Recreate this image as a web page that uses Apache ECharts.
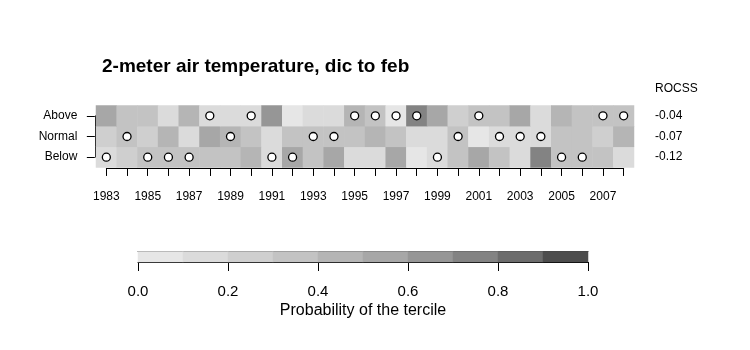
<!DOCTYPE html>
<html>
<head>
<meta charset="utf-8">
<script src="https://cdn.jsdelivr.net/npm/echarts@6/dist/echarts.min.js"></script>
<style>html,body{margin:0;padding:0;background:#fff}#c{width:750px;height:350px}</style>
</head>
<body>
<div id="c"></div>
<script>
// ---- data ----
var years = ['1983','1984','1985','1986','1987','1988','1989','1990','1991','1992','1993','1994','1995','1996','1997','1998','1999','2000','2001','2002','2003','2004','2005','2006','2007','2008'];
var terciles = ['Below', 'Normal', 'Above'];           // bottom to top
var rocss = ['-0.12', '-0.07', '-0.04'];               // bottom to top
var probAbove  = [0.53,0.33,0.37,0.13,0.43,0.17,0.17,0.13,0.63,0.07,0.17,0.13,0.47,0.33,0.07,0.73,0.57,0.27,0.37,0.37,0.53,0.17,0.43,0.33,0.37,0.37];
var probNormal = [0.27,0.37,0.27,0.47,0.17,0.53,0.43,0.37,0.17,0.37,0.37,0.33,0.37,0.47,0.37,0.17,0.13,0.37,0.07,0.17,0.17,0.13,0.33,0.33,0.27,0.43];
var probBelow  = [0.17,0.27,0.37,0.37,0.37,0.33,0.37,0.47,0.17,0.57,0.33,0.53,0.17,0.17,0.53,0.07,0.17,0.33,0.57,0.37,0.13,0.73,0.33,0.33,0.33,0.17];
var observed = ['Below','Normal','Below','Below','Below','Above','Normal','Above','Below','Below','Normal','Normal','Above','Above','Above','Above','Below','Normal','Above','Normal','Normal','Normal','Below','Below','Above','Above'];
var colorbarBreaks = [0, 0.1, 0.2, 0.3, 0.4, 0.5, 0.6, 0.7, 0.8, 0.9, 1.0];
var colorbarColors = ['#e6e6e6','#dbdbdb','#cfcfcf','#c3c3c3','#b5b5b5','#a7a7a7','#969696','#838383','#6c6c6c','#4d4d4d'];
var colorbarValues = [0.05, 0.15, 0.25, 0.35, 0.45, 0.55, 0.65, 0.75, 0.85, 0.95];

// ---- build ----
var heatData = [];
[probBelow, probNormal, probAbove].forEach(function (row, r) {
  row.forEach(function (v, i) { heatData.push([i, r, v]); });
});
var obsData = observed.map(function (t, i) { return [i, terciles.indexOf(t)]; });
var cbData = colorbarValues.map(function (v, i) { return [i, 0, v]; });
var pieces = colorbarColors.map(function (c, i) {
  var p = { gte: colorbarBreaks[i], color: c };
  if (i === colorbarColors.length - 1) p.lte = colorbarBreaks[i + 1]; else p.lt = colorbarBreaks[i + 1];
  return p;
});

var FONT = 'Liberation Sans, Arial, sans-serif';
var chart = echarts.init(document.getElementById('c'), null, { renderer: 'canvas' });
var colW = 538 / years.length, rowH = 62 / terciles.length;
chart.setOption({
  animation: false,
  backgroundColor: '#ffffff',
  title: {
    text: '2-meter air temperature, dic to feb',
    left: 102, top: 57, padding: 0,
    textStyle: { fontFamily: FONT, fontSize: 19, fontWeight: 'bold', color: '#000' }
  },
  visualMap: {
    type: 'piecewise', show: false, dimension: 2, seriesIndex: [0, 2], pieces: pieces
  },
  grid: [
    { left: 96, width: 538, top: 105.5, height: 62 },
    { left: 96 + colW / 2, width: 538 - colW, top: 105.5 + rowH / 2, height: 62 - rowH },
    { left: 138, width: 450, top: 251.5, height: 10.5 }
  ],
  xAxis: [
    { gridIndex: 0, type: 'category', data: years, show: false },
    { gridIndex: 1, type: 'category', data: years, boundaryGap: false, position: 'bottom', offset: 10.8,
      axisLine: { show: true, lineStyle: { color: '#000', width: 1 } },
      axisTick: { show: true, interval: 0, length: 8, lineStyle: { color: '#000', width: 1 } },
      axisLabel: { show: true, interval: 1, margin: 23, fontFamily: FONT, fontSize: 12, color: '#000' },
      splitLine: { show: false } },
    { gridIndex: 2, type: 'category', data: colorbarValues.map(String), show: false },
    { gridIndex: 2, type: 'value', min: 0, max: 1, interval: 0.2, position: 'bottom',
      axisLine: { show: true, lineStyle: { color: '#000', width: 1 } },
      axisTick: { show: true, length: 9, lineStyle: { color: '#000' } },
      axisLabel: { margin: 22, fontFamily: FONT, fontSize: 15, color: '#000', formatter: function (v) { return v.toFixed(1); } },
      splitLine: { show: false },
      name: 'Probability of the tercile', nameLocation: 'middle', nameGap: 41,
      nameTextStyle: { fontFamily: FONT, fontSize: 16, color: '#000' } },
    { gridIndex: 2, type: 'value', min: 0, max: 1, position: 'top',
      axisLine: { show: true, lineStyle: { color: '#3a3a3a', width: 1 } },
      axisTick: { show: false }, axisLabel: { show: false }, splitLine: { show: false } }
  ],
  yAxis: [
    { gridIndex: 0, type: 'category', data: terciles, show: false },
    { gridIndex: 1, type: 'category', data: terciles, boundaryGap: false, position: 'left', offset: 11.5,
      axisLine: { show: true, lineStyle: { color: '#000', width: 1 } },
      axisTick: { show: true, interval: 0, length: 8, lineStyle: { color: '#000', width: 1 } },
      axisLabel: { show: true, interval: 0, margin: 17.5, fontFamily: FONT, fontSize: 12, color: '#000' },
      splitLine: { show: false } },
    { gridIndex: 0, type: 'category', data: rocss, position: 'right',
      axisLine: { show: false }, axisTick: { show: false },
      axisLabel: { margin: 21, align: 'left', fontFamily: FONT, fontSize: 12, color: '#000' },
      name: 'ROCSS', nameLocation: 'end', nameGap: 11,
      nameTextStyle: { align: 'left', padding: [0, 0, 0, 21], fontFamily: FONT, fontSize: 12, color: '#000' } },
    { gridIndex: 2, type: 'category', data: ['bar'], show: false }
  ],
  series: [
    { type: 'heatmap', xAxisIndex: 0, yAxisIndex: 0, data: heatData, itemStyle: { borderWidth: 0 }, emphasis: { disabled: true } },
    { type: 'scatter', xAxisIndex: 0, yAxisIndex: 0, data: obsData, symbol: 'circle', symbolSize: 8,
      itemStyle: { color: '#ffffff', borderColor: '#000000', borderWidth: 1.3, opacity: 1 }, z: 5 },
    { type: 'heatmap', xAxisIndex: 2, yAxisIndex: 3, data: cbData, itemStyle: { borderWidth: 0 }, emphasis: { disabled: true } }
  ]
});
</script>
</body>
</html>
